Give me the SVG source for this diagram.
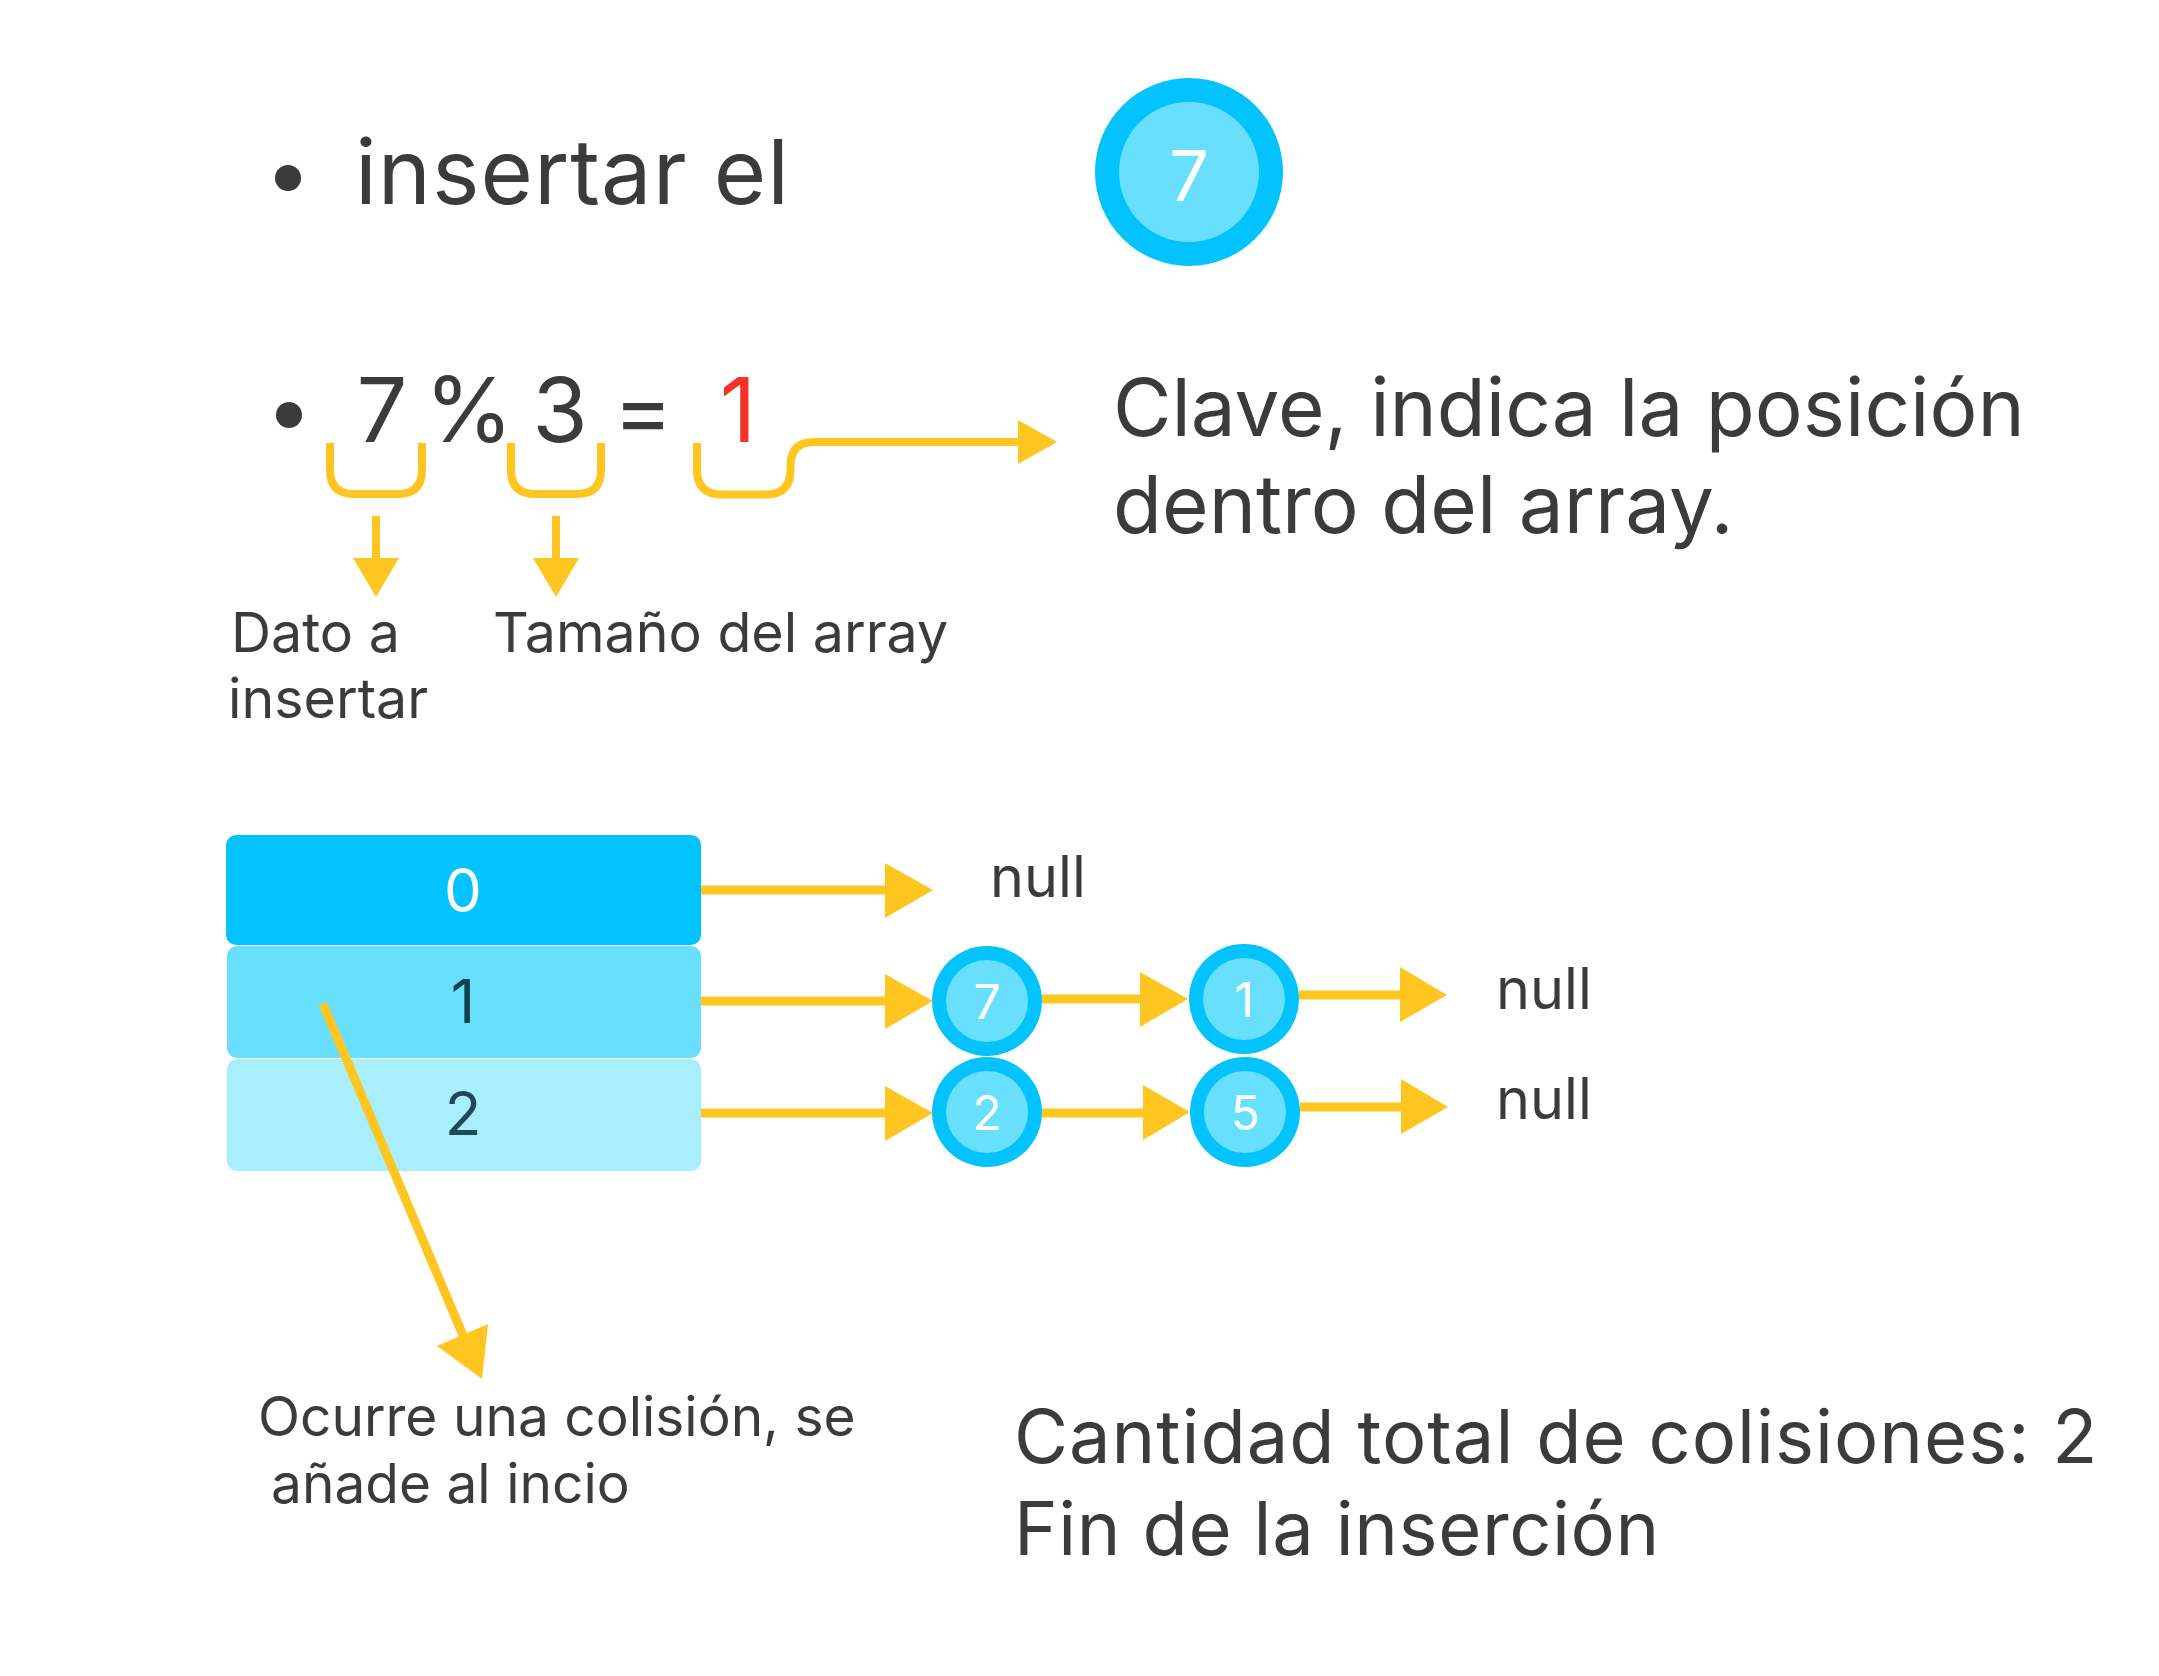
<svg xmlns="http://www.w3.org/2000/svg" width="2159" height="1676" viewBox="0 0 2159 1676">
<style>
.t{font-family:Inter,"Liberation Sans",sans-serif;fill:#3b3b3b}
.y{fill:none;stroke:#FFC622;stroke-width:8}
.yl{fill:none;stroke:#FFC622;stroke-width:9}
.h{fill:#FFC622}
.outer{fill:#02C3FD}
.inner{fill:#68DFFD}
.nt{font-family:Inter,"Liberation Sans",sans-serif;fill:#ffffff;text-anchor:middle}
</style>
<rect width="2159" height="1676" fill="#ffffff"/>
<g id="title">
<circle cx="288" cy="178" r="13" fill="#3b3b3b"/>
<text class="t" x="355" y="204" font-size="90" letter-spacing="1">insertar el</text>
</g>
<g id="node-top7">
<circle class="outer" cx="1189" cy="172" r="94"/>
<circle class="inner" cx="1189" cy="172" r="70"/>
<text class="nt" x="1189" y="201" font-size="70">7</text>
</g>
<g id="formula">
<circle cx="289" cy="415" r="13" fill="#3b3b3b"/>
<text class="t" x="382" y="442" font-size="90" text-anchor="middle">7</text>
<text class="t" x="469" y="442" font-size="90" text-anchor="middle">%</text>
<text class="t" x="560" y="442" font-size="90" text-anchor="middle">3</text>
<text class="t" x="643" y="442" font-size="90" text-anchor="middle">=</text>
<text class="t" x="738" y="442" font-size="90" text-anchor="middle" style="fill:#F5322A">1</text>
</g>
<g id="label-dato">
<text class="t" x="231" y="652" font-size="55.5">Dato a</text>
<text class="t" x="228" y="718" font-size="55.5">insertar</text>
</g>
<g id="label-tamano">
<text class="t" x="493" y="652" font-size="55.5">Tamaño del array</text>
</g>
<g id="label-clave">
<text class="t" x="1113" y="436" font-size="80">Clave, indica la posición</text>
<text class="t" x="1113" y="533" font-size="80">dentro del array.</text>
</g>
<g id="array">
<g id="slot0"><rect x="226" y="835" width="475" height="110" rx="10" fill="#02C3FD"/><text class="nt" x="463" y="912" font-size="60">0</text></g>
<g id="slot1"><rect x="227" y="946" width="474" height="112" rx="10" fill="#68DFFD"/><text x="463" y="1023" font-size="60" text-anchor="middle" font-family="Inter,'Liberation Sans',sans-serif" fill="#12404D">1</text></g>
<g id="slot2"><rect x="227" y="1059" width="474" height="112" rx="10" fill="#A9EEFD"/><text x="463" y="1135" font-size="60" text-anchor="middle" font-family="Inter,'Liberation Sans',sans-serif" fill="#1E4A58">2</text></g>
</g>
<g id="node-7"><circle class="outer" cx="987" cy="1001" r="55"/><circle class="inner" cx="987" cy="1001" r="41"/><text class="nt" x="987" y="1019" font-size="48">7</text></g>
<g id="node-1"><circle class="outer" cx="1244" cy="999" r="55"/><circle class="inner" cx="1244" cy="999" r="41"/><text class="nt" x="1244" y="1017" font-size="48">1</text></g>
<g id="node-2"><circle class="outer" cx="987" cy="1112" r="55"/><circle class="inner" cx="987" cy="1112" r="41"/><text class="nt" x="987" y="1130" font-size="48">2</text></g>
<g id="node-5"><circle class="outer" cx="1245" cy="1112" r="55"/><circle class="inner" cx="1245" cy="1112" r="41"/><text class="nt" x="1245" y="1130" font-size="48">5</text></g>
<g id="null0"><text class="t" x="990" y="897" font-size="57.5">null</text></g>
<g id="null1"><text class="t" x="1496" y="1009" font-size="57.5">null</text></g>
<g id="null2"><text class="t" x="1496" y="1119" font-size="57.5">null</text></g>
<g id="label-colision">
<text class="t" x="258" y="1436" font-size="55">Ocurre una colisión, se</text>
<text class="t" x="271" y="1503" font-size="55">añade al incio</text>
</g>
<g id="label-total">
<text class="t" x="1014" y="1463" font-size="74" letter-spacing="1">Cantidad total de colisiones: 2</text>
<text class="t" x="1014" y="1555" font-size="74" letter-spacing="0.6">Fin de la inserción</text>
</g>
<g id="connectors">
<path class="y" d="M330,443 V470 Q330,494 354,494 H398 Q422,494 422,470 V443"/>
<path class="y" d="M511,443 V470 Q511,494 535,494 H577 Q601,494 601,470 V443"/>
<path class="y" d="M697,443 V470 Q697,494.5 722,494.5 H766 Q790.5,494.5 790.5,470 V466 Q790.5,442 814,442 H1022"/>
<polygon class="h" points="1018,420 1057,442 1018,464"/>
<line class="y" x1="376" y1="516" x2="376" y2="560"/>
<polygon class="h" points="353,558 399,558 376,597"/>
<line class="y" x1="556" y1="516" x2="556" y2="560"/>
<polygon class="h" points="533,558 579,558 556,597"/>
<line class="yl" x1="701" y1="890" x2="888" y2="890"/>
<polygon class="h" points="885,863 933,890 885,918"/>
<line class="yl" x1="701" y1="1001" x2="888" y2="1001"/>
<polygon class="h" points="885,974 933,1001 885,1029"/>
<line class="yl" x1="1042" y1="999" x2="1143" y2="999"/>
<polygon class="h" points="1140,972 1188,999 1140,1027"/>
<line class="yl" x1="1299" y1="995" x2="1403" y2="995"/>
<polygon class="h" points="1400,967 1447,995 1400,1022"/>
<line class="yl" x1="701" y1="1113" x2="888" y2="1113"/>
<polygon class="h" points="885,1086 933,1113 885,1141"/>
<line class="yl" x1="1042" y1="1113" x2="1146" y2="1113"/>
<polygon class="h" points="1143,1085 1190,1112 1143,1140"/>
<line class="yl" x1="1300" y1="1107" x2="1404" y2="1107"/>
<polygon class="h" points="1401,1079 1448,1107 1401,1134"/>
<line class="yl" x1="323" y1="1004" x2="465" y2="1340"/>
<polygon class="h" points="437,1346 488,1324 482,1379"/>
</g>
</svg>
